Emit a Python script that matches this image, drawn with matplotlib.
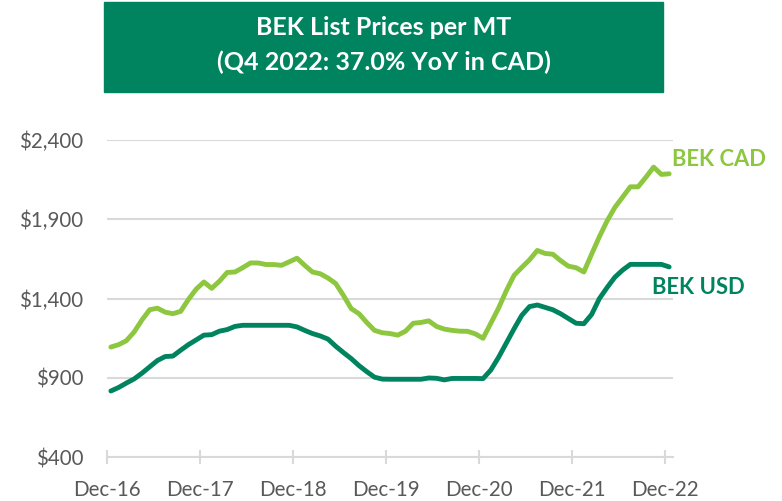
import numpy as np
import matplotlib.pyplot as plt
from matplotlib.patches import Rectangle
from matplotlib.ticker import FuncFormatter

# monthly list prices per MT, Dec-16 .. Dec-22
bek_cad = [
    1095, 1110, 1135, 1190, 1265, 1330, 1340, 1315, 1305, 1320, 1395, 1460,
    1505, 1465, 1510, 1565, 1568, 1595, 1625, 1625, 1615, 1615, 1610, 1632,
    1655, 1610, 1568, 1557, 1530, 1495, 1420, 1337, 1305, 1250, 1200, 1185,
    1180, 1170, 1195, 1245, 1250, 1260, 1225, 1208, 1200, 1195, 1194, 1178,
    1150, 1245, 1340, 1450, 1547, 1597, 1645, 1704, 1685, 1680, 1640, 1605,
    1595, 1568, 1680, 1790, 1890, 1975, 2040, 2105, 2105, 2165, 2229, 2183,
    2187,
]
bek_usd = [
    818, 840, 868, 894, 930, 970, 1010, 1035, 1038, 1075, 1110, 1140,
    1170, 1173, 1195, 1205, 1225, 1232, 1232, 1232, 1232, 1232, 1232, 1232,
    1222, 1200, 1180, 1165, 1145, 1100, 1060, 1022, 978, 940, 905, 893,
    892, 892, 892, 892, 892, 900, 898, 888, 897, 897, 897, 897,
    896, 950, 1030, 1120, 1210, 1295, 1350, 1360, 1345, 1330, 1305, 1275,
    1245, 1242, 1300, 1400, 1470, 1535, 1580, 1616, 1616, 1616, 1616, 1616,
    1600,
]
tick_labels = ["Dec-16", "Dec-17", "Dec-18", "Dec-19", "Dec-20", "Dec-21", "Dec-22"]
y_ticks = [400, 900, 1400, 1900, 2400]

LIGHT = "#8DC63F"
DARK = "#00845F"
GREY = "#595959"
GRID = "#D9D9D9"

plt.rcParams["font.family"] = ["Lato", "DejaVu Sans"]

fig = plt.figure(figsize=(7.82, 5.01), dpi=100)
ax = fig.add_axes([107 / 782, (501 - 457.3) / 501, (673 - 107) / 782, (457.3 - 140) / 501])

x = np.arange(len(bek_cad)) + 0.5
ax.plot(x, bek_cad, color=LIGHT, lw=3.5, solid_capstyle="round", solid_joinstyle="round", clip_on=False, zorder=3)
ax.plot(x, bek_usd, color=DARK, lw=3.5, solid_capstyle="round", solid_joinstyle="round", clip_on=False, zorder=3)

ax.set_xlim(0, 73)
ax.set_ylim(400, 2400)
ax.set_yticks(y_ticks)
ax.yaxis.set_major_formatter(FuncFormatter(lambda v, p: f"${v:,.0f}"))
ax.set_xticks(np.arange(len(tick_labels)) * 12)
ax.set_xticklabels(tick_labels)

for s in ["top", "right", "left"]:
    ax.spines[s].set_visible(False)
ax.spines["bottom"].set_color(GRID)
ax.spines["bottom"].set_linewidth(1.5)
ax.grid(axis="y", color=GRID, lw=1.5)
ax.set_axisbelow(True)
ax.tick_params(axis="y", length=0, pad=17, labelsize=14.8, labelcolor=GREY)
ax.tick_params(axis="x", direction="inout", length=10, width=1.5, color=GRID,
               pad=11, labelsize=14.8, labelcolor=GREY)

# series labels
fig.text(672 / 782, 1 - 160 / 501, "BEK CAD", fontsize=15.8, fontweight="bold",
         color=LIGHT, ha="left", va="center")
fig.text(652 / 782, 1 - 288 / 501, "BEK USD", fontsize=15.8, fontweight="bold",
         color=DARK, ha="left", va="center")

# title box
fig.patches.append(Rectangle((104 / 782, 1 - 92 / 501), (663 - 104) / 782, 90 / 501,
                             transform=fig.transFigure, color=DARK, zorder=0))
fig.text(383.5 / 782, 1 - 45 / 501, "BEK List Prices per MT\n(Q4 2022: 37.0% YoY in CAD)",
         ha="center", va="center", color="white", fontsize=18, fontweight="bold",
         linespacing=1.55)

fig.savefig("out.png", dpi=100)
